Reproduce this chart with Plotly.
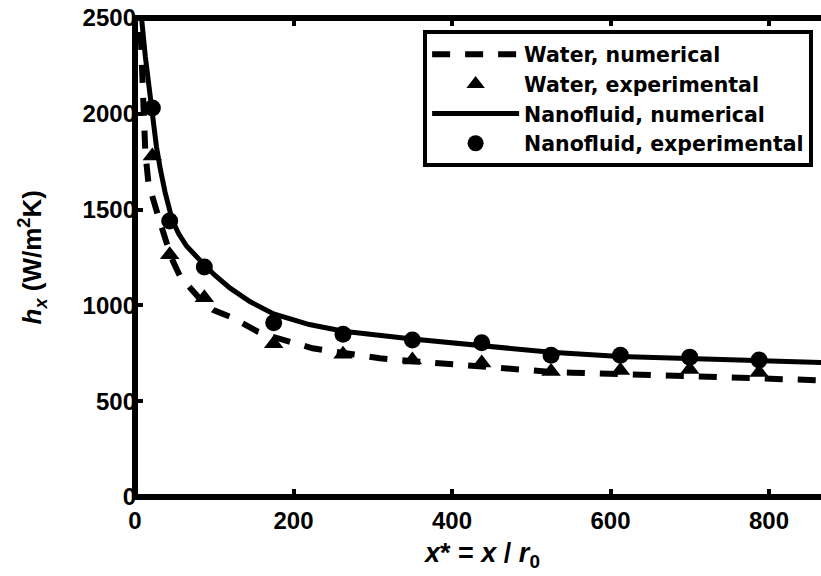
import plotly.graph_objects as go

# experimental points, x* = x / r0
x_exp = [21.9, 43.8, 87.5, 175, 262.5, 350, 437.5, 525, 612.5, 700, 787.5]
h_water_exp = [1780, 1265, 1040, 800, 745, 715, 700, 655, 660, 665, 650]
h_nano_exp = [2030, 1440, 1200, 910, 850, 820, 805, 740, 740, 730, 715]

# numerical curves
x_water_num = [5.5, 7.5, 10, 13, 17, 23, 29.5, 40, 48, 57, 71.5, 85, 99, 120, 155,
               175, 224, 265, 309, 350, 393, 437, 475, 525, 551, 612, 677, 700, 787, 848, 866]
h_water_num = [2600, 2420, 2070, 1800, 1637, 1540, 1463, 1325, 1230, 1150, 1080, 1020,
               976, 941, 863, 835, 776, 748, 724, 709, 694, 680, 663, 653, 649,
               640, 632, 628, 618, 611, 609]

x_nano_num = [6.5, 8.5, 13, 19, 23, 27, 32, 38, 47, 55, 65, 77, 89, 100, 120, 145, 175,
              220, 263, 350, 437, 525, 612, 700, 787, 866]
h_nano_num = [2650, 2490, 2300, 2080, 1960, 1830, 1710, 1590, 1445, 1375, 1310, 1255,
              1205, 1160, 1090, 1020, 955, 900, 865, 825, 790, 755, 733, 720, 710, 702]

font = "Liberation Sans, Arial, sans-serif"

fig = go.Figure()
fig.add_trace(go.Scatter(x=x_water_num, y=h_water_num, mode="lines", name="Water, numerical",
                         line=dict(color="black", width=6, dash="18px,15px")))
fig.add_trace(go.Scatter(x=x_exp, y=h_water_exp, mode="markers", name="Water, experimental",
                         marker=dict(symbol="triangle-up", size=17, color="black")))
fig.add_trace(go.Scatter(x=x_nano_num, y=h_nano_num, mode="lines", name="Nanofluid, numerical",
                         line=dict(color="black", width=5)))
fig.add_trace(go.Scatter(x=x_exp, y=h_nano_exp, mode="markers", name="Nanofluid, experimental",
                         marker=dict(symbol="circle", size=17, color="black")))

axis_common = dict(showgrid=False, zeroline=False, showline=False, ticks="inside",
                   ticklen=8, tickwidth=4, tickcolor="black",
                   tickfont=dict(family=font, size=24, color="black", weight="bold"))

fig.update_layout(
    width=821, height=576,
    margin=dict(l=135, r=0, t=18, b=79),
    paper_bgcolor="white", plot_bgcolor="white",
    showlegend=True,
    xaxis=dict(range=[0, 865.6], tickvals=[0, 200, 400, 600, 800], ticklabelstandoff=7,
               mirror="ticks", **axis_common),
    yaxis=dict(range=[0, 2500], tickvals=[0, 500, 1000, 1500, 2000, 2500], ticklabelstandoff=-2,
               **axis_common),
    legend=dict(x=0.42, y=0.974, xanchor="left", yanchor="top",
                bgcolor="white", bordercolor="black", borderwidth=4,
                itemwidth=87, entrywidth=298, entrywidthmode="pixels",
                font=dict(family="DejaVu Sans, sans-serif", size=20.5, color="black",
                          weight="bold")),
    # frame drawn centred on the plot edges (right side is cut off in the original)
    shapes=[dict(type="rect", xref="paper", yref="paper", x0=0, x1=1.05, y0=0, y1=1,
                 line=dict(color="black", width=6), layer="above")],
    annotations=[
        dict(text="<i>x</i>* = <i>x</i> / <i>r</i><sub>0</sub>", xref="paper", yref="paper",
             x=0.505, y=0, xanchor="center", yanchor="top", yshift=-39, showarrow=False,
             font=dict(family=font, size=27, color="black", weight="bold")),
        dict(text="<i>h<sub>x</sub></i> (W/m<sup>2</sup>K)", xref="paper", yref="paper",
             x=0, y=0.5, xanchor="center", yanchor="middle", xshift=-103, textangle=-90,
             showarrow=False, font=dict(family=font, size=26, color="black", weight="bold")),
    ],
)

fig.write_html("out.html", config={"displayModeBar": False},
               post_script="document.body.style.margin='0';document.body.style.overflow='hidden';")
